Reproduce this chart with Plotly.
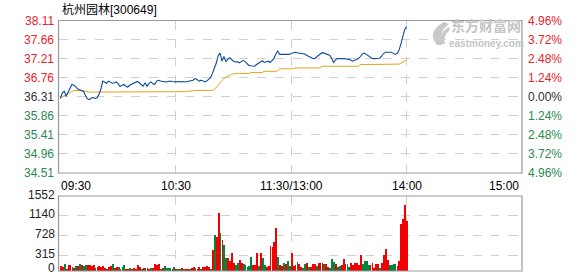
import plotly.graph_objects as go

W, H = 578, 276

title_text = "杭州园林[300649]"
prev_close = 36.31
price_ticks = [38.11, 37.66, 37.21, 36.76, 36.31, 35.86, 35.41, 34.96, 34.51]
pct_labels = ["4.96%", "3.72%", "2.48%", "1.24%", "0.00%", "1.24%", "2.48%", "3.72%", "4.96%"]
vol_ticks = [0, 315, 728, 1140, 1552]
time_ticks = [0, 60, 120, 180, 240]
time_labels = ["09:30", "10:30", "11:30/13:00", "14:00", "15:00"]

price = [
    36.27, 36.40, 36.44, 36.32, 36.42, 36.52, 36.60, 36.58, 36.55, 36.49,
    36.47, 36.46, 36.44, 36.34, 36.26, 36.24, 36.28, 36.29, 36.27, 36.28,
    36.36, 36.48, 36.68, 36.66, 36.63, 36.68, 36.66, 36.63, 36.64, 36.66,
    36.62, 36.55, 36.58, 36.60, 36.56, 36.54, 36.58, 36.60, 36.62, 36.64,
    36.67, 36.64, 36.60, 36.56, 36.64, 36.56, 36.62, 36.66, 36.62, 36.60,
    36.68, 36.70, 36.68, 36.67, 36.67, 36.66, 36.67, 36.68, 36.67, 36.66,
    36.66, 36.67, 36.66, 36.66, 36.67, 36.66, 36.67, 36.68, 36.68, 36.70,
    36.74, 36.72, 36.68, 36.70, 36.69, 36.66, 36.68, 36.72, 36.76, 36.86,
    36.97, 37.10, 37.28, 37.34, 37.15, 37.26, 37.14, 37.20, 37.23, 37.18,
    37.15, 37.13, 37.14, 37.11, 37.14, 37.17, 37.14, 37.09, 37.05, 37.04,
    37.03, 37.03, 37.07, 37.10, 37.11, 37.16, 37.12, 37.13, 37.15, 37.12,
    37.16, 37.21, 37.32, 37.39, 37.31, 37.31, 37.30, 37.31, 37.30, 37.31,
    37.33, 37.35, 37.36, 37.35, 37.34, 37.33, 37.33, 37.32, 37.29, 37.26,
    37.25, 37.22, 37.21, 37.24, 37.27, 37.31, 37.35, 37.34, 37.32, 37.30,
    37.29, 37.22, 37.12, 37.18, 37.21, 37.21, 37.21, 37.21, 37.21, 37.19,
    37.20, 37.17, 37.15, 37.17, 37.19, 37.21, 37.26, 37.32, 37.34, 37.31,
    37.27, 37.23, 37.22, 37.21, 37.21, 37.21, 37.22, 37.27, 37.33, 37.36,
    37.36, 37.35, 37.36, 37.34, 37.31, 37.33, 37.40, 37.55, 37.72, 37.90,
    37.96,
]

avg_price = [
    36.27, 36.30, 36.35, 36.37, 36.39, 36.41, 36.44, 36.46, 36.46, 36.46,
    36.46, 36.45, 36.44, 36.43, 36.42, 36.42, 36.42, 36.42, 36.42, 36.42,
    36.42, 36.42, 36.42, 36.42, 36.42, 36.42, 36.42, 36.42, 36.42, 36.42,
    36.42, 36.42, 36.42, 36.42, 36.42, 36.42, 36.42, 36.42, 36.42, 36.42,
    36.42, 36.42, 36.42, 36.42, 36.42, 36.42, 36.42, 36.42, 36.42, 36.42,
    36.42, 36.42, 36.42, 36.42, 36.42, 36.42, 36.42, 36.42, 36.42, 36.42,
    36.42, 36.42, 36.42, 36.42, 36.43, 36.43, 36.44, 36.44, 36.45, 36.45,
    36.46, 36.46, 36.46, 36.46, 36.46, 36.46, 36.46, 36.46, 36.46, 36.46,
    36.48, 36.52, 36.58, 36.64, 36.70, 36.74, 36.77, 36.80, 36.82, 36.84,
    36.85, 36.86, 36.86, 36.86, 36.86, 36.86, 36.86, 36.86, 36.86, 36.88,
    36.88, 36.88, 36.88, 36.88, 36.88, 36.88, 36.91, 36.91, 36.91, 36.91,
    36.91, 36.91, 36.91, 36.93, 36.97, 36.97, 36.97, 36.97, 36.97, 36.97,
    36.97, 36.97, 36.99, 36.99, 36.99, 36.99, 36.99, 36.99, 36.99, 36.99,
    36.99, 36.99, 36.99, 36.99, 36.99, 36.99, 37.03, 37.03, 37.03, 37.03,
    37.03, 37.03, 37.03, 37.03, 37.03, 37.03, 37.03, 37.03, 37.03, 37.03,
    37.03, 37.03, 37.03, 37.03, 37.03, 37.03, 37.07, 37.07, 37.07, 37.07,
    37.07, 37.07, 37.07, 37.07, 37.07, 37.07, 37.07, 37.07, 37.07, 37.07,
    37.07, 37.08, 37.08, 37.08, 37.08, 37.08, 37.08, 37.10, 37.12, 37.15,
    37.18,
]

volume = [
    103, 90, 145, 48, 117, 117, 90, 62, 103, 103,
    145, 117, 103, 117, 117, 117, 103, 117, 62, 90,
    103, 90, 103, 62, 48, 90, 103, 145, 62, 76,
    90, 48, 76, 131, 48, 48, 62, 48, 62, 48,
    131, 76, 48, 62, 62, 62, 48, 62, 62, 145,
    131, 145, 48, 62, 103, 62, 62, 62, 48, 83,
    48, 34, 48, 62, 48, 34, 48, 48, 62, 76,
    62, 48, 76, 48, 90, 76, 103, 76, 48, 435,
    745, 710, 1194, 780, 640, 540, 276, 276, 200, 365,
    159, 124, 159, 228, 172, 138, 124, 90, 110, 283,
    124, 124, 380, 103, 380, 262, 124, 90, 110, 518,
    490, 607, 897, 283, 124, 103, 172, 138, 214, 103,
    365, 103, 124, 193, 145, 90, 69, 138, 159, 90,
    83, 138, 138, 103, 159, 159, 159, 138, 138, 90,
    69, 241, 193, 138, 90, 103, 124, 241, 138, 138,
    90, 159, 124, 159, 172, 124, 330, 138, 207, 207,
    124, 124, 159, 55, 138, 138, 69, 159, 330, 455,
    228, 124, 124, 138, 145, 104, 207, 973, 1076, 1366,
    1035,
]

# r = up minute (red bar), g = down minute (green bar)
vol_dir = (
    "rrgrrrgrgr" "grggrrrrgr" "rrrrgrrgrr" "grggrrgrrr"
    "rrgrgrrgrr" "rrgrggggrg" "rggrgrrgrr" "grrgrrrrg"
    "rgrrgrggrr" "rrggrrgggg" "grrrgrggrr" "rrrrgrrgrg"
    "grrrgrrggr" "grrrgrrrgr" "rgggrggrrr" "ggrrrrrrgg"
    "ggrrrrrgrr" "rrggggrrrr" "rr"
)

xs = list(range(len(price)))

RED = "#f00000"
GREEN = "#00853a"
LBL_RED = "#e8232b"
LBL_GREEN = "#2a8a4f"
LBL_NEU = "#333333"
bar_colors = [RED if d == "r" else GREEN for d in vol_dir]

X0, X1 = 58.5, 522.0
MT, MB = 20.5, 173.0
VT, VB = 196.0, 271.0


def px(x):
    return x / W


def py(y):
    return 1 - y / H


fig = go.Figure()
fig.add_trace(go.Scatter(x=xs, y=avg_price, mode="lines",
                         line=dict(color="#e3a21a", width=1), hoverinfo="skip",
                         xaxis="x", yaxis="y"))
fig.add_trace(go.Scatter(x=xs, y=price, mode="lines",
                         line=dict(color="#0b4c9c", width=1.1), hoverinfo="skip",
                         xaxis="x", yaxis="y"))
fig.add_trace(go.Bar(x=list(range(len(volume))), y=volume,
                     marker=dict(color=bar_colors, line=dict(width=0)),
                     width=0.45, hoverinfo="skip", xaxis="x2", yaxis="y2"))

grid = dict(showgrid=True, gridcolor="#d0d0d0", griddash="dash", gridwidth=1,
            zeroline=False, showline=False, showticklabels=False, ticks="")

fig.update_layout(
    width=W, height=H, margin=dict(l=0, r=0, t=0, b=0),
    paper_bgcolor="white", plot_bgcolor="white", showlegend=False,
    bargap=0,
    xaxis=dict(domain=[px(X0), px(X1)], range=[-1, 240], tickvals=time_ticks[1:-1], anchor="y", **grid),
    yaxis=dict(domain=[py(MB), py(MT)], range=[price_ticks[-1], price_ticks[0]],
               tickvals=price_ticks[1:-1], anchor="x", **grid),
    xaxis2=dict(domain=[px(X0), px(X1)], range=[-1, 240], tickvals=time_ticks[1:-1], anchor="y2", **grid),
    yaxis2=dict(domain=[py(VB), py(VT)], range=[0, vol_ticks[-1]],
                tickvals=vol_ticks[1:-1], anchor="x2", **grid),
)

FONT = "Liberation Sans, Arial, sans-serif"
anns = []
anns.append(dict(x=px(60), y=py(9.5), xref="paper", yref="paper", text=title_text,
                 showarrow=False, xanchor="left", yanchor="middle",
                 font=dict(family="Liberation Sans, Noto Sans CJK SC, sans-serif", size=12, color="#000")))
for v, p in zip(price_ticks, pct_labels):
    if v > prev_close + 1e-9:
        c = LBL_RED
    elif v < prev_close - 1e-9:
        c = LBL_GREEN
    else:
        c = LBL_NEU
    anns.append(dict(x=px(55.5), y=v, xref="paper", yref="y", text=f"{v:.2f}", showarrow=False,
                     xanchor="right", yanchor="middle", font=dict(family=FONT, size=12, color=c)))
    anns.append(dict(x=px(525.5), y=v, xref="paper", yref="y", text=p, showarrow=False,
                     xanchor="left", yanchor="middle", font=dict(family=FONT, size=12, color=c)))
for t, lab in zip(time_ticks, time_labels):
    if t == time_ticks[0]:
        anns.append(dict(x=px(59), y=py(186), xref="paper", yref="paper", text=lab, showarrow=False,
                         xanchor="left", yanchor="middle", font=dict(family=FONT, size=12, color="#000")))
    elif t == time_ticks[-1]:
        anns.append(dict(x=px(521), y=py(186), xref="paper", yref="paper", text=lab, showarrow=False,
                         xanchor="right", yanchor="middle", font=dict(family=FONT, size=12, color="#000")))
    else:
        anns.append(dict(x=t, y=py(186), xref="x", yref="paper", text=lab, showarrow=False,
                         xanchor="center", yanchor="middle", font=dict(family=FONT, size=12, color="#000")))
for v in vol_ticks:
    if v == 0:
        anns.append(dict(x=px(55.5), y=py(276), xref="paper", yref="paper", text=str(v), showarrow=False,
                         xanchor="right", yanchor="bottom", borderpad=0,
                         font=dict(family=FONT, size=12, color="#222")))
    else:
        anns.append(dict(x=px(55.5), y=v, xref="paper", yref="y2", text=str(v), showarrow=False,
                         xanchor="right", yanchor="middle", borderpad=0, yshift=1.5,
                         font=dict(family=FONT, size=12, color="#222")))
# watermark
anns.append(dict(x=px(486), y=py(36), xref="paper", yref="paper", text="<b>东方财富网</b>", showarrow=False,
                 xanchor="center", yanchor="bottom", borderpad=0,
                 font=dict(family="Noto Sans CJK SC, sans-serif", size=14, color="#c4c4c4")))
anns.append(dict(x=px(486), y=py(36.5), xref="paper", yref="paper", text="<b>eastmoney.com</b>", showarrow=False,
                 xanchor="center", yanchor="top", borderpad=0,
                 font=dict(family=FONT, size=10, color="#c4c4c4")))
fig.update_layout(annotations=anns)

shapes = []
for (t, b) in [(MT, MB), (VT, VB)]:
    shapes.append(dict(type="rect", xref="paper", yref="paper", x0=px(X0), x1=px(X1), y0=py(b), y1=py(t),
                       line=dict(color="#9a9a9a", width=1.2), fillcolor="rgba(0,0,0,0)", layer="above"))


def P(x, y):
    return f"{px(x):.5f},{py(y):.5f}"


logo = ("M " + P(437, 45) + " Q " + P(426, 32) + " " + P(444, 22) + " L " + P(449, 24) +
        " Q " + P(437, 33) + " " + P(442, 45) + " Z")
shapes.append(dict(type="path", xref="paper", yref="paper", path=logo,
                   fillcolor="#c8c8c8", line=dict(width=0), layer="below"))
logo2 = ("M " + P(441, 44) + " Q " + P(437, 34) + " " + P(449, 27) + " L " + P(450, 30) +
         " Q " + P(442, 36) + " " + P(445, 44) + " Z")
shapes.append(dict(type="path", xref="paper", yref="paper", path=logo2,
                   fillcolor="#c8c8c8", line=dict(width=0), layer="below"))
fig.update_layout(shapes=shapes)

fig.write_html("out.html")
